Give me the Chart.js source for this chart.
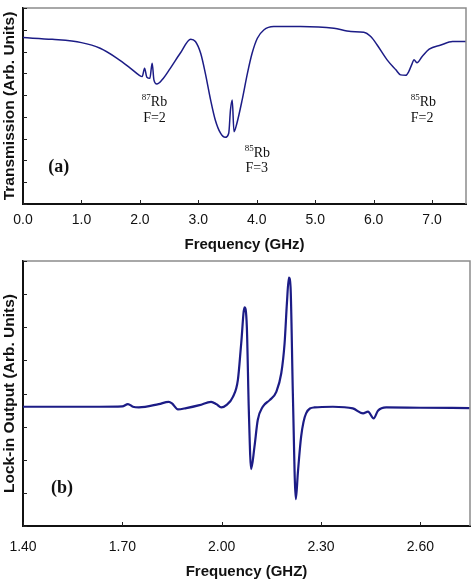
<!DOCTYPE html>
<html>
<head>
<meta charset="utf-8">
<script src="https://cdn.jsdelivr.net/npm/chart.js@4/dist/chart.umd.min.js"></script>
<style>
  html, body { margin: 0; padding: 0; background: #fff; }
  body { width: 474px; height: 586px; position: relative; overflow: hidden; }
  canvas { position: absolute; left: 0; }
</style>
</head>
<body>
<canvas id="cA" width="474" height="258" style="top:0"></canvas>
<canvas id="cB" width="474" height="328" style="top:258px"></canvas>
<script>
// ---------- Panel (a): transmission vs frequency ----------
const freqA = [0, 0.5, 1.0, 1.32, 1.61, 1.84, 1.98, 2.04, 2.08, 2.12, 2.17, 2.21, 2.24, 2.29, 2.38, 2.52, 2.69, 2.87, 2.95, 3.04, 3.12, 3.21, 3.29, 3.38, 3.46, 3.52, 3.55, 3.58, 3.61, 3.66, 3.75, 3.84, 3.92, 4.01, 4.12, 4.29, 4.75, 5.32, 5.61, 5.83, 5.95, 6.06, 6.23, 6.38, 6.46, 6.55, 6.60, 6.66, 6.69, 6.74, 6.83, 6.95, 7.15, 7.35, 7.59];
const transA = [7.64, 7.56, 7.41, 7.15, 6.69, 6.23, 5.93, 5.85, 6.23, 5.82, 5.77, 6.46, 5.70, 5.51, 5.70, 6.23, 6.92, 7.57, 7.46, 6.92, 6.00, 4.78, 3.86, 3.25, 3.06, 3.25, 4.32, 4.78, 3.32, 3.71, 4.78, 6.00, 6.92, 7.61, 7.99, 8.15, 8.15, 8.07, 7.92, 7.89, 7.69, 7.30, 6.62, 6.16, 5.93, 5.91, 6.08, 6.46, 6.62, 6.49, 6.77, 7.11, 7.30, 7.46, 7.46];
const xTicksA = [0, 1, 2, 3, 4, 5, 6, 7];
const xLabelsA = ["0.0", "1.0", "2.0", "3.0", "4.0", "5.0", "6.0", "7.0"];
const yTicksA = [0, 1, 2, 3, 4, 5, 6, 7, 8, 9];
const notesA_sup  = ["87", "", "85", "", "85", "", ""];
const notesA_text = ["Rb", "F=2", "Rb", "F=3", "Rb", "F=2", "(a)"];
const notesA_x    = [2.25, 2.25, 4.01, 4.00, 6.85, 6.83, 0.61];
const notesA_y    = [4.50, 3.76, 2.16, 1.47, 4.50, 3.76, 1.47];

// ---------- Panel (b): lock-in output vs frequency ----------
const freqB = [1.40, 1.55, 1.63, 1.70, 1.717, 1.732, 1.75, 1.81, 1.84, 1.85, 1.868, 1.893, 1.933, 1.968, 1.984, 1.999, 2.014, 2.034, 2.049, 2.059, 2.069, 2.076, 2.082, 2.089, 2.099, 2.109, 2.124, 2.145, 2.165, 2.18, 2.19, 2.197, 2.203, 2.208, 2.215, 2.224, 2.23, 2.24, 2.255, 2.28, 2.336, 2.396, 2.427, 2.442, 2.459, 2.472, 2.497, 2.60, 2.749];
const lockB = [3.60, 3.60, 3.60, 3.61, 3.68, 3.60, 3.58, 3.68, 3.75, 3.70, 3.52, 3.56, 3.65, 3.75, 3.68, 3.58, 3.65, 3.90, 4.41, 5.51, 6.60, 6.02, 3.50, 1.72, 2.39, 3.20, 3.60, 3.80, 4.05, 4.61, 5.51, 6.72, 7.50, 7.22, 4.00, 0.81, 1.59, 2.70, 3.40, 3.58, 3.60, 3.55, 3.40, 3.45, 3.25, 3.48, 3.58, 3.57, 3.56];
const xTicksB = [1.40, 1.70, 2.00, 2.30, 2.60];
const xLabelsB = ["1.40", "1.70", "2.00", "2.30", "2.60"];
const yTicksB = [0, 1, 2, 3, 4, 5, 6, 7, 8];
const notesB_sup  = [""];
const notesB_text = ["(b)"];
const notesB_x    = [1.518];
const notesB_y    = [1.0];

const LINE = '#1c1c86';
const SANS = 'Arial, "Liberation Sans", Helvetica, sans-serif';
const SERIF = '"Times New Roman", "Liberation Serif", serif';

const framePlugin = {
  id: 'frame',
  afterDraw(chart, args, opts) {
    const { ctx, chartArea: a, scales: { x, y } } = chart;
    ctx.save();
    // gray top/right frame
    ctx.strokeStyle = '#8c8c8c';
    ctx.lineWidth = 1.5;
    ctx.beginPath();
    ctx.moveTo(a.left, a.top);
    ctx.lineTo(a.right, a.top);
    ctx.lineTo(a.right, a.bottom);
    ctx.stroke();
    // inward tick marks
    ctx.strokeStyle = '#222';
    ctx.lineWidth = 1;
    ctx.beginPath();
    x.ticks.forEach(t => {
      const px = Math.round(x.getPixelForValue(t.value)) + 0.5;
      ctx.moveTo(px, a.bottom);
      ctx.lineTo(px, a.bottom - 4);
    });
    y.ticks.forEach(t => {
      const py = Math.round(y.getPixelForValue(t.value)) + 0.5;
      ctx.moveTo(a.left, py);
      ctx.lineTo(a.left + 4, py);
    });
    ctx.stroke();
    // annotations
    ctx.fillStyle = '#111';
    ctx.textBaseline = 'alphabetic';
    opts.text.forEach((txt, i) => {
      const sup = opts.sup[i];
      const cx = x.getPixelForValue(opts.xs[i]);
      const by = y.getPixelForValue(opts.ys[i]);
      const isTag = txt.startsWith('(');
      const mainFont = isTag ? 'bold 18px ' + SERIF : '14px ' + SERIF;
      const supFont = '9px ' + SERIF;
      ctx.font = mainFont;
      const wMain = ctx.measureText(txt).width;
      ctx.font = supFont;
      const wSup = sup ? ctx.measureText(sup).width : 0;
      const left = cx - (wMain + wSup) / 2;
      if (sup) {
        ctx.fillText(sup, left, by - 6);
      }
      ctx.font = mainFont;
      ctx.fillText(txt, left + wSup, by);
    });
    ctx.restore();
  }
};

function makeChart(id, xs, ys, xTicks, xLabels, yTicks, xMin, xMax, yMax, yTitle, xTitle, pad, xH, tickPad, titlePadB, lw, notes) {
  const pts = xs.map((v, i) => ({ x: v, y: ys[i] }));
  return new Chart(document.getElementById(id), {
    type: 'line',
    data: { datasets: [{ data: pts, borderColor: LINE, borderWidth: lw, pointRadius: 0, fill: false, cubicInterpolationMode: 'monotone' }] },
    options: {
      responsive: false,
      animation: false,
      devicePixelRatio: 1,
      layout: { padding: pad },
      plugins: { legend: { display: false }, tooltip: { enabled: false }, frame: notes },
      scales: {
        x: {
          type: 'linear', min: xMin, max: xMax,
          afterBuildTicks: s => { s.ticks = xTicks.map(v => ({ value: v })); },
          afterFit: s => { s.height = xH; s.paddingLeft = 0; s.paddingRight = 0; },
          grid: { display: false, drawTicks: false },
          border: { display: true, color: '#111', width: 2 },
          ticks: {
            padding: tickPad, color: '#111', font: { family: SANS, size: 14 },
            maxRotation: 0, autoSkip: false,
            callback: (v) => { const k = xTicks.findIndex(t => Math.abs(t - v) < 1e-6); return k >= 0 ? xLabels[k] : ''; }
          },
          title: { display: true, text: xTitle, color: '#111', font: { family: SANS, size: 15, weight: 'bold' }, padding: { top: 0, bottom: titlePadB } }
        },
        y: {
          type: 'linear', min: 0, max: yMax,
          afterBuildTicks: s => { s.ticks = yTicks.map(v => ({ value: v })); },
          afterFit: s => { s.width = 23; },
          grid: { display: false, drawTicks: false },
          border: { display: true, color: '#111', width: 2 },
          ticks: { display: false },
          title: { display: true, text: yTitle, color: '#111', font: { family: SANS, size: 15.5, weight: 'bold' }, padding: { top: 0, bottom: 0 } }
        }
      }
    },
    plugins: [framePlugin]
  });
}

makeChart('cA', freqA, transA, xTicksA, xLabelsA, yTicksA, 0, 7.58, 9,
  'Transmission (Arb. Units)', 'Frequency (GHz)',
  { left: 0, top: 8, right: 8, bottom: 0 }, 54, 8, 4, 1.5,
  { sup: notesA_sup, text: notesA_text, xs: notesA_x, ys: notesA_y });

makeChart('cB', freqB, lockB, xTicksB, xLabelsB, yTicksB, 1.40, 2.75, 8,
  'Lock-in Output (Arb. Units)', 'Frequency (GHZ)',
  { left: 0, top: 3, right: 4, bottom: 0 }, 60, 13, 5, 2.2,
  { sup: notesB_sup, text: notesB_text, xs: notesB_x, ys: notesB_y });
</script>
</body>
</html>
